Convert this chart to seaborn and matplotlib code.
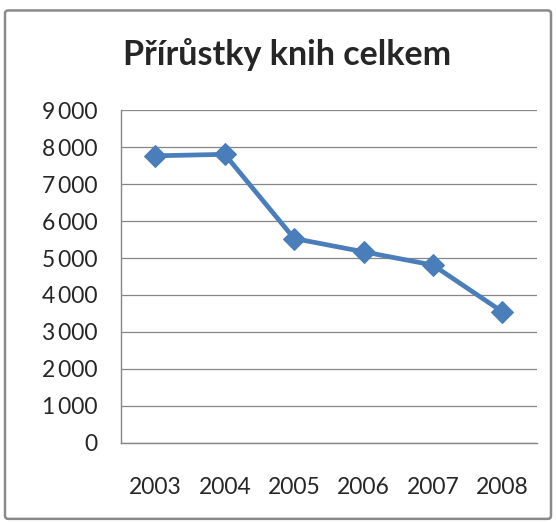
import matplotlib
matplotlib.use("Agg")
import matplotlib.pyplot as plt
import seaborn as sns
import pandas as pd
from matplotlib.patches import FancyBboxPatch

years = ["2003", "2004", "2005", "2006", "2007", "2008"]
values = [7770, 7810, 5530, 5170, 4810, 3545]
y_ticks = [0, 1000, 2000, 3000, 4000, 5000, 6000, 7000, 8000, 9000]
title = "Přírůstky knih celkem"

sns.set_style("white")
plt.rcParams["font.family"] = ["Lato", "DejaVu Sans"]

df = pd.DataFrame({"year": years, "value": values})

fig = plt.figure(figsize=(5.56, 5.22), dpi=100)
ax = fig.add_axes([0.217, 0.152, 0.749, 0.6365])

gray = "#868686"
blue = "#4A7EBB"

sns.lineplot(data=df, x="year", y="value", ax=ax, color=blue, lw=3.4,
             marker="D", markersize=11, markeredgecolor=blue, zorder=3)

n = len(years)
ax.set_xlim(-0.5, n - 0.5)
ax.set_ylim(0, 9000)
ax.set_yticks(y_ticks)
ax.set_yticklabels([f"{v:,}".replace(",", "\u2009") for v in y_ticks], fontsize=16.5)
ax.set_xticks([i - 0.5 for i in range(n + 1)])
ax.set_xticklabels([])
ax.set_xticks(range(n), minor=True)
ax.set_xticklabels(years, minor=True, fontsize=16.5)
ax.tick_params(axis="x", which="major", length=6, width=1, color=gray, direction="out")
ax.tick_params(axis="x", which="minor", length=0, pad=25)
ax.tick_params(axis="y", length=6.5, width=1, color=gray, direction="out", pad=10)
ax.set_xlabel("")
ax.set_ylabel("")
ax.grid(axis="y", color=gray, lw=0.9)
ax.set_axisbelow(True)
for s in ["top", "right"]:
    ax.spines[s].set_visible(False)
for s in ["left", "bottom"]:
    ax.spines[s].set_color(gray)
    ax.spines[s].set_linewidth(1)

fig.text(0.516, 0.895, title, ha="center", va="center", fontsize=24.5, fontweight="bold")

border = FancyBboxPatch((0.009, 0.006), 0.982, 0.974, boxstyle="round,pad=0,rounding_size=0.006",
                        transform=fig.transFigure, fill=False, edgecolor="#8a8a8a", lw=1.8)
fig.patches.append(border)

fig.savefig("out.png", dpi=100)
